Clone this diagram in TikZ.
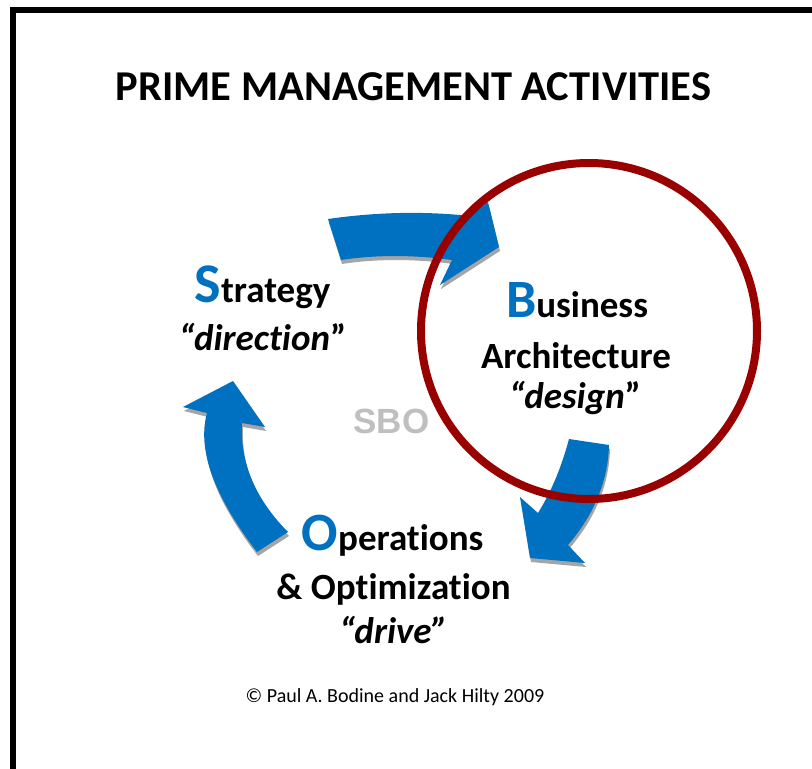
\documentclass[tikz,border=0pt]{standalone}
\usepackage{fontspec}
\setmainfont{Carlito}[Ligatures={NoCommon,NoContextual}]
\newfontfamily\sbofont{Liberation Sans}
\definecolor{arrowblue}{RGB}{0,112,192}
\definecolor{ringred}{RGB}{153,0,0}
\definecolor{sbogray}{RGB}{191,191,191}
\definecolor{shadegray}{RGB}{165,165,165}
\newcommand{\bigini}[2]{{\fontsize{#2}{#2}\selectfont\color{arrowblue}#1}}
\tikzset{
  cyclearrow/.style={fill=arrowblue, preaction={fill=shadegray, transform canvas={shift={(1pt,-4pt)}}}},
  word/.style={anchor=base, inner sep=0pt, font=\fontsize{37}{40}\selectfont\bfseries},
  ring/.style={draw=ringred, line width=8pt, circle, minimum size=336pt, inner sep=0pt},
}
\begin{document}
\begin{tikzpicture}[x=1pt,y=1pt]
\useasboundingbox (0,0) rectangle (812,-769);
\clip (0,0) rectangle (812,-769);
\fill[white] (0,0) rectangle (812,-769);
\draw[line width=6pt] (13,-10) rectangle (840,-800);

% title
\node[anchor=base, inner sep=0pt, font=\fontsize{42.5}{45}\selectfont\bfseries] (title) at (413.5,-100) {PRIME MANAGEMENT ACTIVITIES};

% arrows
\fill[cyclearrow] (328,-219) .. controls (376.7,-212) and (424,-211) .. (470,-216) -- (488,-202) -- (499,-247) -- (440,-285) -- (452,-260) .. controls (413,-254.7) and (376,-254.7) .. (341,-260) -- cycle;
\fill[cyclearrow] (257,-552) .. controls (213.7,-495.7) and (197,-449.3) .. (207,-413) -- (183,-407) -- (233,-381) -- (265,-427) -- (242,-423) .. controls (240,-462.7) and (255.3,-499) .. (288,-532) -- cycle;
\fill[cyclearrow] (569,-439) -- (609,-445) .. controls (608,-481) and (594.3,-514.3) .. (568,-545) -- (585,-563) -- (530,-558) -- (520,-497) -- (538,-513) .. controls (551.7,-491) and (561.7,-466.3) .. (569,-439) -- cycle;

% ring
\node[ring] (ring) at (589,-331) {};

% texts
\node[word] (strat1) at (262.5,-302) {\bigini{S}{56}trategy};
\node[word] (strat2) at (262.5,-350) {\textit{“direction}”};
\node[word] (bus1) at (577,-317) {\bigini{B}{54}usiness};
\node[word] (bus2) at (576,-368) {Architecture};
\node[word] (bus3) at (575,-408) {\textit{“design}”};
\node[word] (ops1) at (392.5,-550) {\bigini{O}{54}perations};
\node[word] (ops2) at (393.5,-599) {\& Optimization};
\node[word] (ops3) at (393.5,-643) {\textit{“drive”}};
\node[anchor=base, inner sep=0pt, font=\sbofont\bfseries\fontsize{35}{35}\selectfont, text=sbogray] (sbo) at (391.5,-433) {SBO};
\node[anchor=base, inner sep=0pt, font=\fontsize{20}{22}\selectfont] (copy) at (395,-702) {© Paul A. Bodine and Jack Hilty 2009};
\end{tikzpicture}
\end{document}
